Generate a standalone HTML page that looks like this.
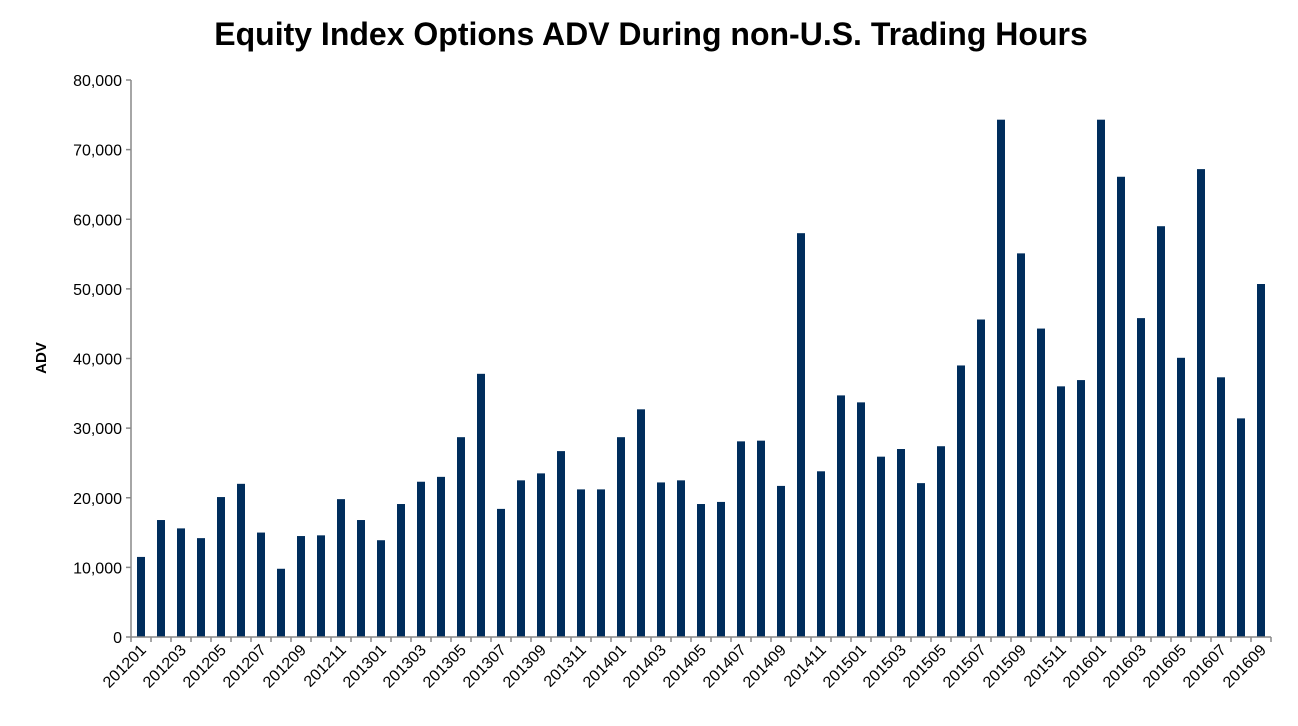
<!DOCTYPE html>
<html><head><meta charset="utf-8"><style>
body{margin:0;background:#fff;}
svg text{font-family:"Liberation Sans",Arial,sans-serif;}
</style></head><body>
<svg id="chart" width="1298" height="721" xmlns="http://www.w3.org/2000/svg">
<text x="651" y="45" text-anchor="middle" font-size="32" font-weight="bold">Equity Index Options ADV During non-U.S. Trading Hours</text>
<text transform="translate(46,358) rotate(-90)" text-anchor="middle" font-size="15" font-weight="bold">ADV</text>
<g id="bars"></g><g id="axes"></g>
</svg>
<script>
const categories=[];
for(let y=2012;y<=2016;y++)for(let m=1;m<=12;m++){if(y===2016&&m>9)break;categories.push(y+String(m).padStart(2,'0'));}
const values=[11500,16800,15600,14200,20100,22000,15000,9800,14500,14600,19800,16800,
13900,19100,22300,23000,28700,37800,18400,22500,23500,26700,21200,21200,
28700,32700,22200,22500,19100,19400,28100,28200,21700,58000,23800,34700,
33700,25900,27000,22100,27400,39000,45600,74300,55100,44300,36000,36900,
74300,66100,45800,59000,40100,67200,37300,31400,50700];
const yTicks=[0,10000,20000,30000,40000,50000,60000,70000,80000];
const L=131,R=1271,T=80,B=637,yMax=80000;
const NS='http://www.w3.org/2000/svg';
const step=(R-L)/categories.length;
const xs=i=>L+step*(i+0.5);
const ys=v=>B-(v/yMax)*(B-T);
const bars=document.getElementById('bars'),axes=document.getElementById('axes');
function mk(t,a,p){const e=document.createElementNS(NS,t);for(const k in a)e.setAttribute(k,a[k]);p.appendChild(e);return e;}
values.forEach((v,i)=>{
 const r=mk('rect',{x:xs(i)-4,y:ys(v),width:8,height:B-ys(v),fill:'#002d5c'},bars);
 
 
});
const ya=mk('line',{x1:L,y1:T,x2:L,y2:B,stroke:'#888','stroke-width':1.5},axes);


const xa=mk('line',{x1:L,y1:B,x2:R,y2:B,stroke:'#888','stroke-width':1.5},axes);


yTicks.forEach(t=>{
 mk('line',{x1:L-5,y1:ys(t),x2:L,y2:ys(t),stroke:'#888','stroke-width':1.5},axes);
 const tx=mk('text',{x:L-9,y:ys(t)+6,'text-anchor':'end','font-size':16},axes);
 tx.textContent=t.toLocaleString('en-US');
 
 
});
for(let i=0;i<=categories.length;i++){
 mk('line',{x1:L+step*i,y1:B,x2:L+step*i,y2:B+5,stroke:'#888','stroke-width':1.5},axes);
}
categories.forEach((c,i)=>{
 if(i%2)return;
 const x=xs(i)+6,y=B+14;
 const tx=mk('text',{x:x,y:y,'text-anchor':'end','font-size':16,transform:`rotate(-45 ${x} ${y})`},axes);
 tx.textContent=c;
 
 
});
</script>
</body></html>
